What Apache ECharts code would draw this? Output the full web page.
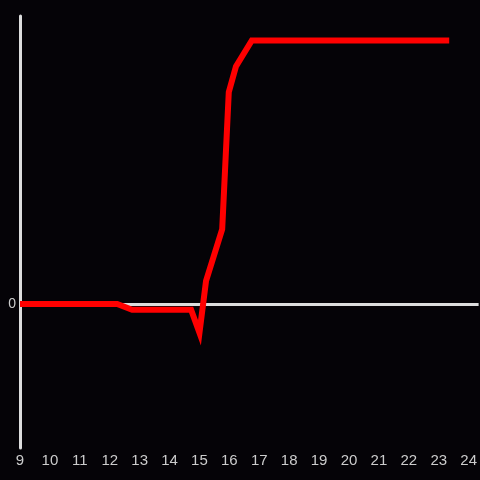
<!DOCTYPE html>
<html>
<head>
<meta charset="utf-8">
<script src="https://cdn.jsdelivr.net/npm/echarts@6/dist/echarts.min.js"></script>
<style>
  html, body { margin: 0; padding: 0; background: #050307; }
  #chart { width: 480px; height: 480px; }
</style>
</head>
<body>
<div id="chart"></div>
<script>
// hours of the day and the values
const hours = [9, 12.25, 12.75, 14.72, 15.0, 15.22, 15.76, 15.98, 16.22, 16.75, 23.35];
const values = [0, 0, -0.04, -0.04, -0.2, 0.16, 0.52, 1.47, 1.65, 1.83, 1.83];
const zeroLine = [0];

const chart = echarts.init(document.getElementById('chart'));
chart.setOption({
  backgroundColor: '#050307',
  animation: false,
  grid: { left: 20, right: 0, top: 16, bottom: 32 },
  xAxis: {
    type: 'value',
    min: 9,
    max: 24.333,
    interval: 1,
    axisLine: { show: false, onZero: false },
    axisTick: { show: false },
    splitLine: { show: false },
    axisLabel: {
      color: '#cccccc',
      fontSize: 15,
      fontFamily: 'Liberation Sans',
      margin: 5,
      showMaxLabel: false,
      formatter: v => Number.isInteger(v) ? String(v) : ''
    }
  },
  yAxis: {
    type: 'value',
    min: -1,
    max: 2,
    interval: 1,
    axisLine: { show: true, lineStyle: { color: '#dddddd', width: 3 } },
    axisTick: { show: false },
    splitLine: { show: false },
    axisLabel: {
      color: '#cccccc',
      fontSize: 14,
      fontFamily: 'Liberation Sans',
      margin: 4,
      formatter: v => v === 0 ? '0' : ''
    }
  },
  series: [{
    type: 'line',
    data: hours.map((h, i) => [h, values[i]]),
    showSymbol: false,
    lineStyle: { color: '#ff0000', width: 6, join: 'miter', cap: 'butt' },
    z: 5,
    markLine: {
      silent: true,
      symbol: 'none',
      label: { show: false },
      lineStyle: { color: '#dddddd', width: 3, type: 'solid' },
      data: zeroLine.map(v => ({ yAxis: v }))
    }
  }]
});
</script>
</body>
</html>
